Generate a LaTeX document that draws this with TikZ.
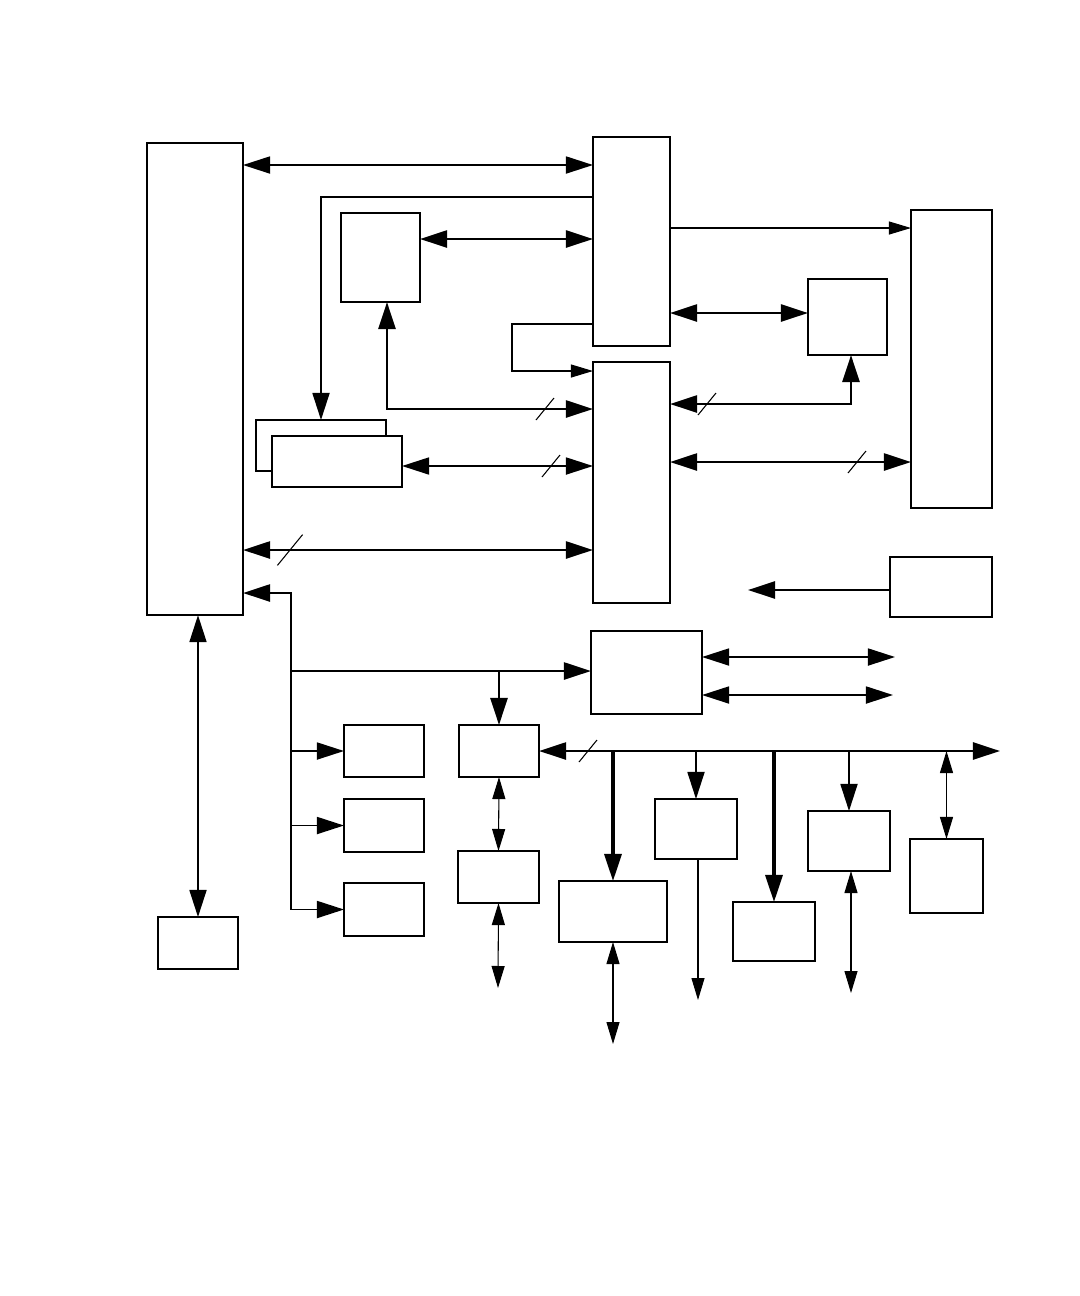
\documentclass[tikz,border=0pt]{standalone}
\usetikzlibrary{arrows.meta}
\tikzset{
  blk/.style={draw, line width=0.4pt, fill=white, inner sep=0pt, outer sep=0pt},
  Big/.tip={Triangle[length=2.7mm,width=1.7mm]},
  Sml/.tip={Triangle[length=2.2mm,width=1.3mm]},
  thinwire/.style={line width=0.3pt},
  wire/.style={line width=0.5pt},
  buswire/.style={line width=0.7pt},
  fatwire/.style={line width=0.9pt},
  busmark/.pic={\draw[line width=0.3pt] (-9,11) -- (9,-11);}
}
\begin{document}
\begin{tikzpicture}[x=0.01cm, y=-0.01cm]
    \useasboundingbox (0,0) rectangle (1080,1296);
    % blocks, upper half
    \node[blk, minimum width=0.96cm, minimum height=4.72cm] (A) at (195,379) {};
    \node[blk, minimum width=0.77cm, minimum height=2.09cm] (B) at (631.5,241.5) {};
    \node[blk, minimum width=0.79cm, minimum height=0.89cm] (C) at (380.5,257.5) {};
    \node[blk, minimum width=0.77cm, minimum height=2.41cm] (D) at (631.5,482.5) {};
    \node[blk, minimum width=0.81cm, minimum height=2.98cm] (E) at (951.5,359) {};
    \node[blk, minimum width=0.79cm, minimum height=0.76cm] (F) at (847.5,317) {};
    \node[blk, minimum width=1.30cm, minimum height=0.51cm] (Gb) at (321,445.5) {};
    \node[blk, minimum width=1.30cm, minimum height=0.51cm] (G) at (337,461.5) {};
    \node[blk, minimum width=1.02cm, minimum height=0.60cm] (H) at (941,587) {};
    % blocks, lower half
    \node[blk, minimum width=1.11cm, minimum height=0.83cm] (I) at (646.5,672.5) {};
    \node[blk, minimum width=0.80cm, minimum height=0.52cm] (J1) at (384,751) {};
    \node[blk, minimum width=0.80cm, minimum height=0.53cm] (J2) at (384,825.5) {};
    \node[blk, minimum width=0.80cm, minimum height=0.53cm] (J3) at (384,909.5) {};
    \node[blk, minimum width=0.80cm, minimum height=0.52cm] (K1) at (499,751) {};
    \node[blk, minimum width=0.81cm, minimum height=0.52cm] (K2) at (498.5,877) {};
    \node[blk, minimum width=0.80cm, minimum height=0.52cm] (L) at (198,943) {};
    \node[blk, minimum width=1.08cm, minimum height=0.61cm] (M1) at (613,911.5) {};
    \node[blk, minimum width=0.82cm, minimum height=0.60cm] (M2) at (696,829) {};
    \node[blk, minimum width=0.82cm, minimum height=0.59cm] (M3) at (774,931.5) {};
    \node[blk, minimum width=0.82cm, minimum height=0.60cm] (M4) at (849,841) {};
    \node[blk, minimum width=0.73cm, minimum height=0.74cm] (M5) at (946.5,876) {};
    % free ends and bends
    \coordinate (loopL) at (512,0);
    \coordinate (tapC) at (387,0);
    \coordinate (tapF) at (851,0);
    \coordinate (hEnd) at (748,590);
    \coordinate (iEndA) at (895,657);
    \coordinate (iEndB) at (893,695);
    \coordinate (spine) at (291,0);
    \coordinate (busR) at (1000,751);
    \coordinate (kEnd) at (498,988);
    \coordinate (m1End) at (613,1044);
    \coordinate (m2End) at (698,1000);
    \coordinate (m4End) at (851,993);
    % upper connectors
    \draw[wire, Big-Big] (A.east |- 0,165) -- (B.west |- 0,165);
    \draw[wire, -Big] (B.west |- 0,197) -| (Gb.north);
    \draw[buswire, Big-Big] (C.east |- 0,239) -- (B.west |- 0,239);
    \draw[thinwire, -Sml] (B.east |- 0,228) -- (E.west |- 0,228);
    \draw[buswire, Big-Big] (B.east |- 0,313) -- (F.west |- 0,313);
    \draw[thinwire, -Sml] (B.west |- 0,324) -| (loopL |- 0,371) -- (D.west |- 0,371);
    \draw[buswire, Big-Big] (C.south -| tapC) |- (D.west |- 0,409);
    \pic at (545,409) {busmark};
    \draw[buswire, Big-Big] (D.east |- 0,404) -| (F.south -| tapF);
    \pic at (707,404) {busmark};
    \draw[wire, Big-Big] (G.east |- 0,466) -- (D.west |- 0,466);
    \pic at (551,466) {busmark};
    \draw[buswire, Big-Big] (D.east |- 0,462) -- (E.west |- 0,462);
    \pic at (857,462) {busmark};
    \draw[buswire, Big-Big] (A.east |- 0,550) -- (D.west |- 0,550);
    \pic[scale=1.4] at (290,550) {busmark};
    \draw[buswire, -Big] (H.west |- hEnd) -- (hEnd);
    \draw[wire, Big-Big] (I.east |- iEndA) -- (iEndA);
    \draw[wire, Big-Big] (I.east |- iEndB) -- (iEndB);
    % lower connectors
    \draw[wire, Big-Big] (A.south -| L.north) -- (L.north);
    \draw[buswire, Big-] (A.east |- 0,593) -| (spine |- J3.west);
    \draw[buswire, -Big] (spine |- 0,671) -- (I.west |- 0,671);
    \draw[buswire, -Big] (K1.north |- 0,671) -- (K1.north);
    \draw[wire, -Big] (spine |- J1.west) -- (J1.west);
    \draw[wire, -Big] (spine |- J2.west) -- (J2.west);
    \draw[wire, -Big] (spine |- J3.west) -- (J3.west);
    \draw[thinwire, Sml-Sml] (K1.south) -- (K2.north);
    \draw[thinwire, Sml-Sml] (K2.south) -- (kEnd);
    \draw[buswire, Big-Big] (K1.east) -- (busR);
    \pic at (588,751) {busmark};
    \draw[fatwire, -Big] (M1.north |- K1.east) -- (M1.north);
    \draw[wire, -Big] (M2.north |- K1.east) -- (M2.north);
    \draw[fatwire, -Big] (M3.north |- K1.east) -- (M3.north);
    \draw[wire, -Big] (M4.north |- K1.east) -- (M4.north);
    \draw[thinwire, Sml-Sml] (M5.north |- K1.east) -- (M5.north);
    \draw[thinwire, Sml-Sml] (M1.south) -- (m1End);
    \draw[thinwire, -Sml] (M2.south -| m2End) -- (m2End);
    \draw[thinwire, Sml-Sml] (M4.south -| m4End) -- (m4End);
\end{tikzpicture}
\end{document}
